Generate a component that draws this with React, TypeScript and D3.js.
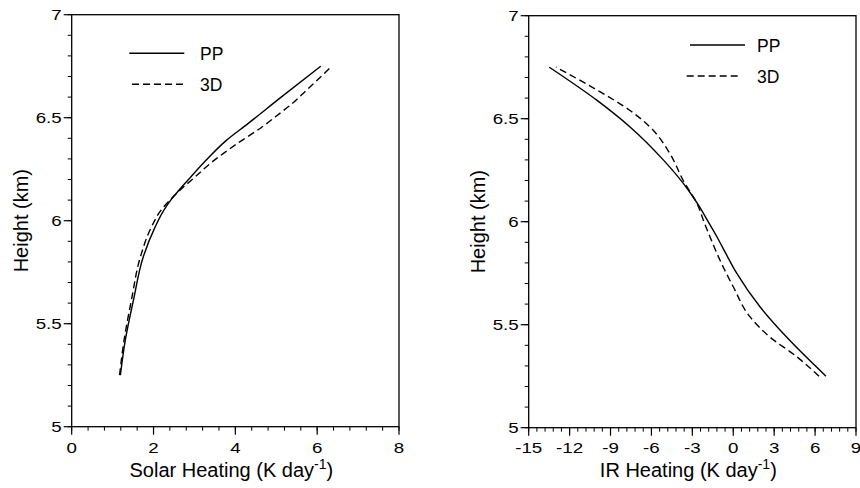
import React from "react";
import * as d3 from "d3";

// ---- Data ----
// Left panel: solar heating vs height
const SOLAR_PP_H = [5.25, 5.42, 5.615, 5.825, 5.97, 6.05, 6.1, 6.15, 6.21, 6.28, 6.39, 6.47, 6.6, 6.75];
const SOLAR_PP_X = [1.19, 1.31, 1.51, 1.75, 2.04, 2.25, 2.42, 2.63, 2.9, 3.22, 3.78, 4.3, 5.12, 6.09];
const SOLAR_3D_H = [5.25, 5.42, 5.615, 5.825, 5.97, 6.05, 6.1, 6.15, 6.21, 6.28, 6.375, 6.456, 6.52, 6.57, 6.62, 6.667, 6.75];
const SOLAR_3D_X = [1.17, 1.28, 1.46, 1.68, 1.95, 2.18, 2.4, 2.66, 3.0, 3.4, 4.05, 4.66, 5.08, 5.4, 5.67, 5.92, 6.36];

// Right panel: IR heating vs height
const IR_PP_H = [5.25, 5.44, 5.587, 5.75, 5.85, 5.927, 6.0, 6.08, 6.154, 6.3, 6.46, 6.59, 6.75];
const IR_PP_X = [6.8, 3.91, 1.96, 0.25, -0.58, -1.2, -1.84, -2.55, -3.3, -5.13, -7.57, -10.01, -13.49];
const IR_3D_H = [5.25, 5.345, 5.44, 5.539, 5.684, 5.814, 5.927, 6.0, 6.08, 6.2, 6.33, 6.46, 6.54, 6.64, 6.75];
const IR_3D_X = [6.29, 4.65, 2.69, 1.22, 0.0, -0.98, -1.71, -2.15, -2.6, -3.67, -4.64, -6.11, -7.57, -10.01, -13.0];

// Axis ticks
const Y_MAJOR = [5, 5.5, 6, 6.5, 7];
const Y_LABELS = ["5", "5.5", "6", "6.5", "7"];
const SOLAR_X_MAJOR = [0, 2, 4, 6, 8];
const SOLAR_X_LABELS = ["0", "2", "4", "6", "8"];
const IR_X_MAJOR = [-15, -12, -9, -6, -3, 0, 3, 6, 9];
const IR_X_LABELS = ["-15", "-12", "-9", "-6", "-3", "0", "3", "6", "9"];

const SERIES_NAMES = ["PP", "3D"];

const FONT = "'Liberation Sans', Arial, Helvetica, sans-serif";

type PanelProps = {
  left: number;
  right: number;
  top: number;
  bottom: number;
  xDomain: [number, number];
  xMajor: number[];
  xLabels: string[];
  xMinorStep: number;
  title: string;
  ppX: number[];
  ppH: number[];
  dX: number[];
  dH: number[];
  yTitleX: number;
  legend: { solid: [number, number]; dashed: [number, number]; ySolid: number; yDashed: number; textX: number };
};

function Panel(p: PanelProps) {
  const x = d3.scaleLinear().domain(p.xDomain).range([p.left, p.right]);
  const y = d3.scaleLinear().domain([5, 7]).range([p.bottom, p.top]);
  const line = d3
    .line<[number, number]>()
    .x((d) => x(d[0]))
    .y((d) => y(d[1]))
    .curve(d3.curveMonotoneY);
  const pp = p.ppX.map((v, i) => [v, p.ppH[i]] as [number, number]);
  const dd = p.dX.map((v, i) => [v, p.dH[i]] as [number, number]);

  const xMinor: number[] = [];
  const nx = Math.round((p.xDomain[1] - p.xDomain[0]) / p.xMinorStep);
  for (let i = 0; i <= nx; i++) xMinor.push(p.xDomain[0] + i * p.xMinorStep);
  const yMinor: number[] = [];
  for (let i = 0; i <= 20; i++) yMinor.push(5 + i * 0.1);

  const tickScale = 1.25;
  const tickFs = 15;
  const sw = 1.3;
  return (
    <g>
      {/* frame */}
      <rect x={p.left} y={p.top} width={p.right - p.left} height={p.bottom - p.top} fill="none" stroke="#000" strokeWidth={sw} />
      {/* minor ticks */}
      {xMinor.map((v, i) => (
        <line key={"xm" + i} x1={x(v)} x2={x(v)} y1={p.bottom} y2={p.bottom + 4} stroke="#000" strokeWidth={1} />
      ))}
      {yMinor.map((v, i) => (
        <line key={"ym" + i} x1={p.left - 4} x2={p.left} y1={y(v)} y2={y(v)} stroke="#000" strokeWidth={1} />
      ))}
      {/* major ticks */}
      {p.xMajor.map((v, i) => (
        <g key={"xM" + i}>
          <line x1={x(v)} x2={x(v)} y1={p.bottom} y2={p.bottom + 8} stroke="#000" strokeWidth={1.2} />
          <text
            transform={`translate(${x(v)},${453}) scale(${tickScale},1)`}
            textAnchor="middle"
            fontSize={tickFs}
            fontFamily={FONT}
            fill="#000"
          >
            {p.xLabels[i]}
          </text>
        </g>
      ))}
      {Y_MAJOR.map((v, i) => (
        <g key={"yM" + i}>
          <line x1={p.left - 8} x2={p.left} y1={y(v)} y2={y(v)} stroke="#000" strokeWidth={1.2} />
          <text
            transform={`translate(${p.left - 10},${y(v) + 5.5}) scale(${tickScale},1)`}
            textAnchor="end"
            fontSize={tickFs}
            fontFamily={FONT}
            fill="#000"
          >
            {Y_LABELS[i]}
          </text>
        </g>
      ))}
      {/* curves */}
      <path d={line(pp) || ""} fill="none" stroke="#000" strokeWidth={1.4} />
      <path d={line(dd) || ""} fill="none" stroke="#000" strokeWidth={1.4} strokeDasharray="7,4" />
      {/* legend */}
      <line x1={p.legend.solid[0]} x2={p.legend.solid[1]} y1={p.legend.ySolid} y2={p.legend.ySolid} stroke="#000" strokeWidth={1.4} />
      <text x={p.legend.textX} y={p.legend.ySolid + 6.5} fontSize={17.5} fontFamily={FONT} fill="#000">
        {SERIES_NAMES[0]}
      </text>
      <line
        x1={p.legend.dashed[0]}
        x2={p.legend.dashed[1]}
        y1={p.legend.yDashed}
        y2={p.legend.yDashed}
        stroke="#000"
        strokeWidth={1.4}
        strokeDasharray="7,4"
      />
      <text x={p.legend.textX} y={p.legend.yDashed + 6.5} fontSize={17.5} fontFamily={FONT} fill="#000">
        {SERIES_NAMES[1]}
      </text>
      {/* axis titles */}
      <text x={(p.left + p.right) / 2 - 4} y={477} textAnchor="middle" fontSize={20} fontFamily={FONT} fill="#000">
        {p.title}
        <tspan fontSize={14} dy={-8}>
          -1
        </tspan>
        <tspan dy={8}>)</tspan>
      </text>
      <text
        transform={`translate(${p.yTitleX},${(p.top + p.bottom) / 2}) rotate(-90)`}
        textAnchor="middle"
        fontSize={20}
        fontFamily={FONT}
        fill="#000"
      >
        Height (km)
      </text>
    </g>
  );
}

export default function App() {
  return (
    <svg width={860} height={488} style={{ position: "absolute", left: 0, top: 0, background: "#fff" }}>
      <rect x={0} y={0} width={860} height={488} fill="#fff" />
      <Panel
        left={71.7}
        right={399}
        top={14.7}
        bottom={426.7}
        xDomain={[0, 8]}
        xMajor={SOLAR_X_MAJOR}
        xLabels={SOLAR_X_LABELS}
        xMinorStep={0.4}
        title="Solar Heating (K day"
        ppX={SOLAR_PP_X}
        ppH={SOLAR_PP_H}
        dX={SOLAR_3D_X}
        dH={SOLAR_3D_H}
        yTitleX={27.5}
        legend={{ solid: [129.3, 184.3], dashed: [132, 184.3], ySolid: 53.3, yDashed: 84.3, textX: 200 }}
      />
      <Panel
        left={528.7}
        right={856}
        top={15.7}
        bottom={427.7}
        xDomain={[-15, 9]}
        xMajor={IR_X_MAJOR}
        xLabels={IR_X_LABELS}
        xMinorStep={0.6}
        title="IR Heating (K day"
        ppX={IR_PP_X}
        ppH={IR_PP_H}
        dX={IR_3D_X}
        dH={IR_3D_H}
        yTitleX={485}
        legend={{ solid: [690, 745], dashed: [686.7, 741.7], ySolid: 45, yDashed: 76, textX: 757 }}
      />
    </svg>
  );
}
